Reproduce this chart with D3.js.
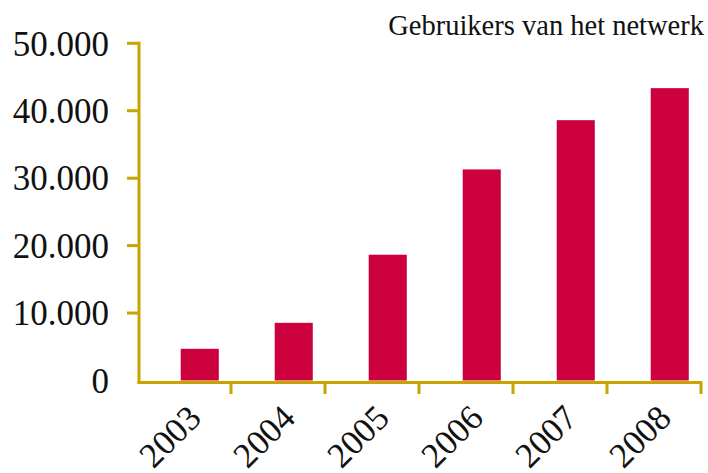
<!DOCTYPE html>
<html>
<head>
<meta charset="utf-8">
<script src="https://cdn.jsdelivr.net/npm/d3@7"></script>
<style>
  body { margin: 0; background: #fff; }
</style>
</head>
<body>
<script>
// data
var years = ["2003", "2004", "2005", "2006", "2007", "2008"];
var users = [4700, 8550, 18650, 31300, 38600, 43350];
var yTicks = [0, 10000, 20000, 30000, 40000, 50000];
var title = "Gebruikers van het netwerk";

var W = 708, H = 473;
var axisColor = "#c9a300", barColor = "#cc003d";

var svg = d3.select("body").append("svg")
    .attr("width", W)
    .attr("height", H);

var x = d3.scaleBand().domain(years).range([137, 701]);
var y = d3.scaleLinear().domain([0, 50000]).range([380.5, 43.3]);

var fmt = function(v) { return d3.format(",")(v).replace(/,/g, "."); };

// bars (sit right of the band centre, as in the original)
svg.selectAll("rect.bar")
  .data(years)
  .enter().append("rect")
    .attr("class", "bar")
    .attr("x", function(d) { return x(d) + x.bandwidth() * 0.465; })
    .attr("width", x.bandwidth() * 0.405)
    .attr("y", function(d, i) { return y(users[i]); })
    .attr("height", function(d, i) { return y(0) - y(users[i]); })
    .attr("fill", barColor);

// y axis
svg.append("line")
    .attr("x1", 139).attr("x2", 139)
    .attr("y1", y(50000) - 1.5).attr("y2", 384)
    .attr("stroke", axisColor).attr("stroke-width", 3);

svg.selectAll("line.ytick")
  .data(yTicks.slice(1))
  .enter().append("line")
    .attr("class", "ytick")
    .attr("x1", 127).attr("x2", 139)
    .attr("y1", function(d) { return y(d); })
    .attr("y2", function(d) { return y(d); })
    .attr("stroke", axisColor).attr("stroke-width", 3);

svg.selectAll("text.ylab")
  .data(yTicks)
  .enter().append("text")
    .attr("class", "ylab")
    .attr("x", 109)
    .attr("y", function(d) { return y(d); })
    .attr("dy", "0.35em")
    .attr("text-anchor", "end")
    .attr("fill", "#111")
    .style("font-family", "'Times New Roman'")
    .style("font-size", "35px")
    .text(fmt);

// x axis
svg.append("line")
    .attr("x1", 137.5).attr("x2", 702)
    .attr("y1", 382.5).attr("y2", 382.5)
    .attr("stroke", axisColor).attr("stroke-width", 3);

svg.selectAll("line.xtick")
  .data(years)
  .enter().append("line")
    .attr("class", "xtick")
    .attr("x1", function(d) { return x(d) + x.bandwidth(); })
    .attr("x2", function(d) { return x(d) + x.bandwidth(); })
    .attr("y1", 382).attr("y2", 394)
    .attr("stroke", axisColor).attr("stroke-width", 3);

svg.selectAll("text.xlab")
  .data(years)
  .enter().append("text")
    .attr("class", "xlab")
    .attr("text-anchor", "end")
    .attr("fill", "#111")
    .attr("transform", function(d) {
      return "translate(" + (x(d) + x.bandwidth() / 2 + 19) + ",420) rotate(-45)";
    })
    .style("font-family", "'Liberation Serif'")
    .style("font-size", "35px")
    .text(function(d) { return d; });

// title
svg.append("text")
    .attr("x", 704)
    .attr("y", 35)
    .attr("text-anchor", "end")
    .attr("fill", "#111")
    .style("font-family", "'Liberation Serif'")
    .style("font-size", "28.5px")
    .text(title);
</script>
</body>
</html>
